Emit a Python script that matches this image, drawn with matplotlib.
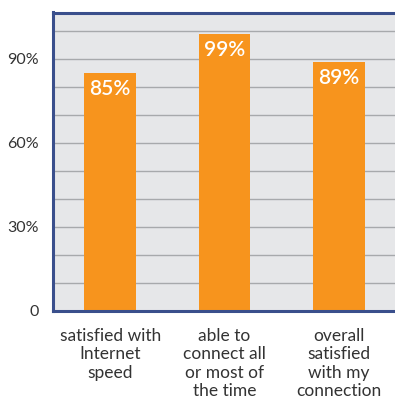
import matplotlib.pyplot as plt
import numpy as np

plt.rcParams['font.family'] = ['Lato', 'DejaVu Sans']

categories = ['satisfied with\nInternet\nspeed',
              'able to\nconnect all\nor most of\nthe time',
              'overall\nsatisfied\nwith my\nconnection']
values = [85, 99, 89]
value_labels = ['85%', '99%', '89%']
tick_values = [0, 30, 60, 90]
tick_labels = ['0', '30%', '60%', '90%']
grid_values = [10, 20, 30, 40, 50, 60, 70, 80, 90, 100]

ORANGE = '#f7941d'
SPINE = '#3a4f8c'
BG = '#e6e7e9'
GRID = '#a7a9ac'
TEXT = '#333333'

fig = plt.figure(figsize=(3.95, 3.98), dpi=100)
ax = fig.add_axes([53 / 395, 87 / 398, 343 / 395, 298.5 / 398])
ax.set_facecolor(BG)

xs = np.arange(len(values))
for g in grid_values:
    ax.axhline(g, color=GRID, linewidth=1.0, zorder=1)
ax.bar(xs, values, width=0.45, color=ORANGE, zorder=2)

for x, v, lab in zip(xs, values, value_labels):
    ax.text(x, v - 2.2, lab, ha='center', va='top', color='white',
            fontsize=15, fontweight='semibold', zorder=3)

ax.set_xlim(-0.5, 2.5)
ax.set_ylim(0, 106.6)
ax.set_yticks(tick_values)
ax.set_yticklabels(tick_labels, fontsize=11.5, color=TEXT)
ax.set_xticks(xs)
ax.set_xticklabels(categories, fontsize=12.5, color=TEXT, linespacing=1.2)
ax.tick_params(axis='both', length=0)
ax.tick_params(axis='y', pad=10)
ax.tick_params(axis='x', pad=12)

for side in ['left', 'bottom', 'top']:
    ax.spines[side].set_color(SPINE)
    ax.spines[side].set_linewidth(2.2)
ax.spines['right'].set_visible(False)

fig.savefig('out.png', dpi=100)
